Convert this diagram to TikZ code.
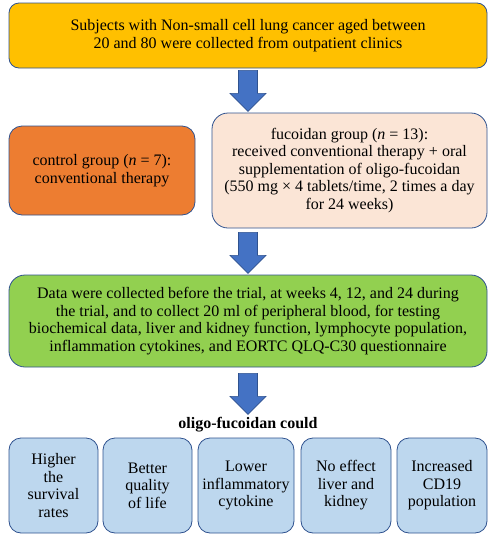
\documentclass[tikz,border=0pt]{standalone}
\usepackage{fontspec}
\setmainfont{Liberation Serif}
\usepackage{tikz}
\usetikzlibrary{calc}
\definecolor{boxyellow}{RGB}{255,192,0}
\definecolor{boxorange}{RGB}{237,125,49}
\definecolor{boxpeach}{RGB}{251,229,214}
\definecolor{boxgreen}{RGB}{146,208,80}
\definecolor{boxblue}{RGB}{189,215,238}
\definecolor{edgeblue}{RGB}{47,82,143}
\definecolor{arrowblue}{RGB}{68,114,196}

% downward block arrow starting at a coordinate
\newcommand{\blockarrow}[1]{%
  \draw[bigarrow] ($(#1)+(-9.5,0)$) -- ($(#1)+(9.5,0)$) -- ($(#1)+(9.5,23)$)
    -- ($(#1)+(18,23)$) -- ($(#1)+(0,41)$) -- ($(#1)+(-18,23)$)
    -- ($(#1)+(-9.5,23)$) -- cycle;}

\begin{document}
\begin{tikzpicture}[x=1pt,y=-1pt,
  every node/.style={font=\fontsize{16}{17.5}\selectfont},
  stage/.style={rectangle,draw=edgeblue,line width=0.8pt,rounded corners=10pt,
                align=center,inner sep=1pt},
  result/.style={stage,fill=boxblue,rounded corners=12pt,
                 minimum height=95pt},
  bigarrow/.style={draw=edgeblue,line width=0.6pt,fill=arrowblue},
]
\useasboundingbox (0,0) rectangle (493,536);

% Recruitment
\node[stage,fill=boxyellow,minimum width=478pt,minimum height=65pt] (subjects) at (248,35.5)
  {Subjects with Non-small cell lung cancer aged between\\20 and 80 were collected from outpatient clinics};

% Groups
\node[stage,fill=boxorange,rounded corners=13pt,minimum width=186pt,minimum height=89pt] (control) at (102,170.5)
  {control group (\textit{n} = 7):\\conventional therapy};
\node[stage,fill=boxpeach,rounded corners=16pt,minimum width=275pt,minimum height=115pt] (fucoidan) at (349.5,170.5)
  {fucoidan group (\textit{n} = 13):\\received conventional therapy + oral\\supplementation of oligo-fucoidan\\(550 mg × 4 tablets/time, 2 times a day\\for 24 weeks)};

% Data collection
\node[stage,fill=boxgreen,rounded corners=16pt,minimum width=478pt,minimum height=92pt] (data) at (248,321)
  {Data were collected before the trial, at weeks 4, 12, and 24 during\\the trial, and to collect 20 ml of peripheral blood, for testing\\biochemical data, liver and kidney function, lymphocyte population,\\inflammation cytokines, and EORTC QLQ-C30 questionnaire};

% Outcomes
\node[font=\fontsize{16}{17.5}\selectfont\bfseries] (could) at (248,425) {oligo-fucoidan could};
\node[result,minimum width=89pt] (survival) at (53.5,485.5) {Higher\\the\\survival\\rates};
\node[result,minimum width=89pt] (quality) at (147.5,485.5) {Better\\quality\\of life};
\node[result,minimum width=96pt] (cytokine) at (246,485.5) {Lower\\inflammatory\\cytokine};
\node[result,minimum width=90pt] (liver) at (346,485.5) {No effect\\liver and\\kidney};
\node[result,minimum width=90pt] (cd19) at (442,485.5) {Increased\\CD19\\population};

% Block arrows
\coordinate (a1) at ($(subjects.south)+(0,2)$);
\coordinate (a2) at ($(fucoidan.south)+(-101.5,4)$);
\coordinate (a3) at ($(data.south)+(0,6)$);
\blockarrow{a1}
\blockarrow{a2}
\blockarrow{a3}

\end{tikzpicture}
\end{document}
